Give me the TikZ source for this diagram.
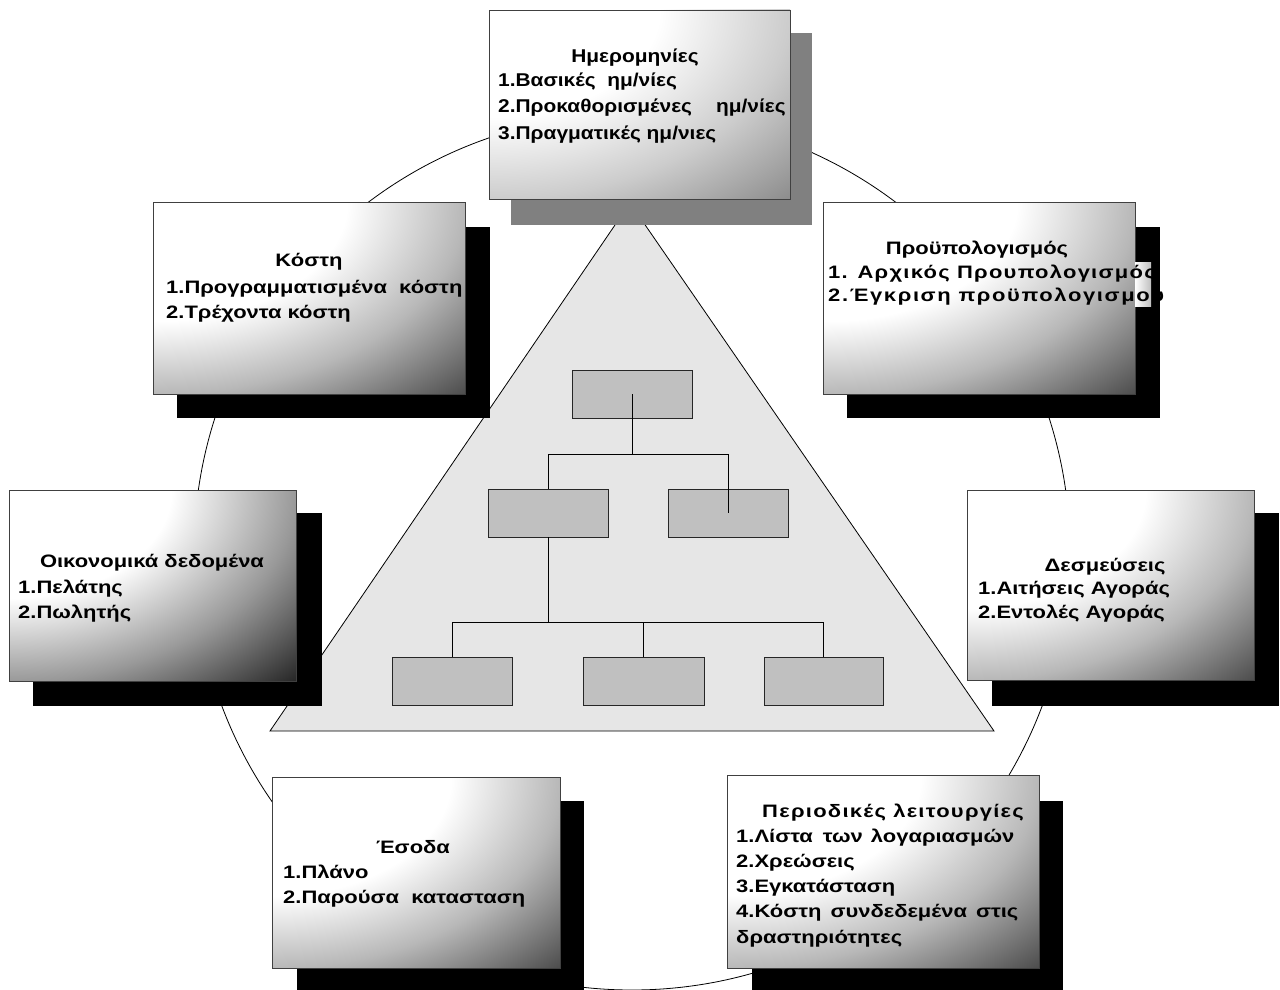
\documentclass[tikz,border=0pt]{standalone}
\usepackage{fontspec}
\setmainfont{Liberation Sans}
\newfontfamily\boxfont[FakeStretch=1.22]{Liberation Sans}
\newfontfamily\datefont[FakeStretch=1.13]{Liberation Sans}
\newfontfamily\widefont[FakeStretch=1.22,LetterSpace=7]{Liberation Sans}
\newfontfamily\widerfont[FakeStretch=1.22,LetterSpace=9]{Liberation Sans}
\definecolor{trifill}{HTML}{E6E6E6}
\definecolor{orgfill}{HTML}{C0C0C0}
\definecolor{topshadow}{HTML}{808080}
\definecolor{edge}{HTML}{404040}
\pgfdeclareradialshading{cornerA}{\pgfpoint{0bp}{0bp}}{color(0bp)=(white); color(11bp)=(white); color(17.7bp)=(black!28); color(25bp)=(black!70); color(50bp)=(black!70)}
\pgfdeclareradialshading{cornerL}{\pgfpoint{0bp}{0bp}}{color(0bp)=(white); color(10bp)=(white); color(17.7bp)=(black!20); color(25bp)=(black!45); color(50bp)=(black!45)}
\pgfdeclareradialshading{cornerD}{\pgfpoint{0bp}{0bp}}{color(0bp)=(white); color(10bp)=(white); color(17.7bp)=(black!40); color(25bp)=(black!85); color(50bp)=(black!85)}
\tikzset{
  panel/.style n args={3}{draw=edge, line width=0.8pt, inner sep=0pt,
    minimum width=#1, minimum height=#2,
    path picture={\shade[shading=#3] (path picture bounding box.north west)
      ellipse [x radius=1.414*#1, y radius=1.414*#2];}},
  txt/.style={inner sep=0pt, font=\boxfont\fontsize{18pt}{21pt}\selectfont\bfseries},
  dtxt/.style={inner sep=0pt, font=\datefont\fontsize{18.5pt}{21pt}\selectfont\bfseries},
  org/.style={draw=black!85, fill=orgfill, line width=0.8pt, minimum width=120pt,
    minimum height=48pt, inner sep=0pt},
  link/.style={draw=black, line width=0.9pt},
}
\begin{document}
\begin{tikzpicture}[x=1pt,y=-1pt]
\useasboundingbox (0,0) rectangle (1280,990);
\fill[white] (0,0) rectangle (1280,990);
% ring
\draw[line width=0.8pt] (632,552) circle [radius=438pt];
% pyramid
\filldraw[fill=trifill, draw=black, line width=0.8pt] (630,203) -- (270,731) -- (994,731) -- cycle;
% org chart
\node[org] (o1) at (632,394) {};
\node[org] (o2) at (548,513) {};
\node[org] (o3) at (728,513) {};
\node[org] (o4) at (452,681) {};
\node[org, minimum width=121pt] (o5) at (643.5,681) {};
\node[org, minimum width=119pt] (o6) at (823.5,681) {};
\coordinate (bus1) at (632,454);
\coordinate (bus2) at (548,622);
\draw[link] (o1.center) -- (bus1);
\draw[link] (o2.north) |- (bus1);
\draw[link] (bus1) -| (o3.center);
\draw[link] (o2.south) -- (bus2);
\draw[link] (o4.north) |- (bus2);
\draw[link] (o6.north) |- (bus2);
\draw[link] (o5.north) -- (o5.north |- bus2);
% shadows
\fill[topshadow] (511,33) rectangle (812,225);
\fill[black] (177,227) rectangle (490,418);
\fill[black] (847,227) rectangle (1160,418);
\fill[black] (33,513) rectangle (322,706);
\fill[black] (992,513) rectangle (1279,706);
\fill[black] (297,801) rectangle (584,995);
\fill[black] (752,801) rectangle (1063,995);
% panels
\node[panel={301pt}{189pt}{cornerL}] (pDates) at (639.5,104.5) {};
\node[panel={312pt}{192pt}{cornerA}] (pCost) at (309,298) {};
\node[panel={312pt}{192pt}{cornerA}] (pBudget) at (979,298) {};
\node[panel={287pt}{191pt}{cornerD}] (pFin) at (152.5,585.5) {};
\node[panel={287pt}{190pt}{cornerA}] (pCommit) at (1110.5,585) {};
\node[panel={288pt}{191pt}{cornerA}] (pRev) at (416,872.5) {};
\node[panel={312pt}{193pt}{cornerA}] (pPeriod) at (883,871.5) {};
% overflow of the budget text past its panel
\shade[left color=white, right color=black!25] (1135,262) rectangle (1151,306);
% texts: dates
\node[dtxt, anchor=base] (d0) at (635,63) {Ημερομηνίες};
\node[dtxt, anchor=base west] (d1) at (498,87) {1.Βασικές\ \ ημ/νίες};
\node[dtxt, anchor=base west] (d2) at (498,113) {2.Προκαθορισμένες\hspace{24pt}ημ/νίες};
\node[dtxt, anchor=base west] (d3) at (498,139) {3.Πραγματικές ημ/νιες};
% cost
\node[txt, anchor=base] (c0) at (309,266) {Κόστη};
\node[txt, anchor=base west] (c1) at (166,293) {1.Προγραμματισμένα\ \ κόστη};
\node[txt, anchor=base west] (c2) at (166,318) {2.Τρέχοντα κόστη};
% budget
\node[txt, anchor=base] (b0) at (977,254) {Προϋπολογισμός};
\node[txt, anchor=base west, font=\widefont\fontsize{18pt}{21pt}\selectfont\bfseries] (b1) at (828,278) {1. Αρχικός Προυπολογισμός};
\node[txt, anchor=base west, font=\widerfont\fontsize{18pt}{21pt}\selectfont\bfseries] (b2) at (828,301) {2.Έγκριση προϋπολογισμού};
% financial data
\node[txt, anchor=base] (f0) at (152,567) {Οικονομικά δεδομένα};
\node[txt, anchor=base west] (f1) at (18,593) {1.Πελάτης};
\node[txt, anchor=base west] (f2) at (18,618) {2.Πωλητής};
% commitments
\node[txt, anchor=base] (m0) at (1105,571) {Δεσμεύσεις};
\node[txt, anchor=base west] (m1) at (978,594) {1.Αιτήσεις Αγοράς};
\node[txt, anchor=base west] (m2) at (978,618) {2.Εντολές Αγοράς};
% revenue
\node[txt, anchor=base] (r0) at (413,853) {Έσοδα};
\node[txt, anchor=base west] (r1) at (283,878) {1.Πλάνο};
\node[txt, anchor=base west] (r2) at (283,903) {2.Παρούσα\ \ κατασταση};
% periodic
\node[txt, anchor=base, font=\widefont\fontsize{18pt}{21pt}\selectfont\bfseries] (q0) at (893,817) {Περιοδικές λειτουργίες};
\node[txt, anchor=base west] (q1) at (736,842) {1.Λίστα\hspace{10pt}των\hspace{8pt}λογαριασμών};
\node[txt, anchor=base west] (q2) at (736,867) {2.Χρεώσεις};
\node[txt, anchor=base west] (q3) at (736,892) {3.Εγκατάσταση};
\node[txt, anchor=base west] (q4) at (736,917) {4.Κόστη\hspace{9pt}συνδεδεμένα\hspace{9pt}στις};
\node[txt, anchor=base west] (q5) at (736,943) {δραστηριότητες};
\end{tikzpicture}
\end{document}
